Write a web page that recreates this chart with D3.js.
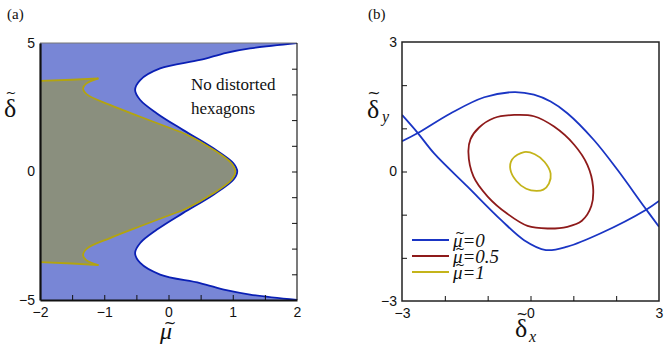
<!DOCTYPE html>
<html>
<head>
<meta charset="utf-8">
<script src="https://cdn.jsdelivr.net/npm/d3@7"></script>
<style>
  body { margin: 0; background: #fff; }
  svg { display: block; }
  .tick text { font-family: "Liberation Sans", Arial, sans-serif; font-size: 14px; fill: #111; }
  .serif { font-family: "Liberation Serif", "Times New Roman", serif; fill: #111; }
  .accent { font-family: "DejaVu Sans", sans-serif; fill: #111; }
</style>
</head>
<body>
<svg></svg>
<script>
// ---- panel (a) data: stability boundaries in the (mu, delta) plane
var boundaryBlue = [
  [2, 5], [1.27, 4.79], [0.9, 4.62], [0.49, 4.34], [-0.13, 4.01], [-0.44, 3.56],
  [-0.52, 3.17], [-0.44, 2.78], [-0.18, 2.26], [0.23, 1.61], [0.70, 0.90],
  [1.01, 0.32], [1.07, 0], [1.01, -0.32], [0.70, -0.90], [0.23, -1.61],
  [-0.18, -2.26], [-0.44, -2.78], [-0.52, -3.17], [-0.44, -3.56], [-0.13, -4.01],
  [0.49, -4.34], [0.9, -4.62], [1.27, -4.79], [2, -5]
];
var yellowTailTop = [[-2, 3.53], [-1.5, 3.57], [-1.09, 3.62]];
var yellowBody = [
  [-1.09, 3.62], [-1.28, 3.42], [-1.33, 3.24], [-1.27, 3.0], [-0.91, 2.59],
  [-0.44, 2.13], [-0.03, 1.74], [0.28, 1.44], [0.68, 0.88], [0.98, 0.32],
  [1.04, 0], [0.98, -0.32], [0.68, -0.88], [0.28, -1.44], [-0.03, -1.74],
  [-0.44, -2.13], [-0.91, -2.59], [-1.27, -3.0], [-1.33, -3.26], [-1.28, -3.45],
  [-1.09, -3.64]
];
var yellowTailBottom = [[-1.09, -3.64], [-1.5, -3.58], [-2, -3.53]];

var muTicksA = [-2, -1, 0, 1, 2];
var deltaTicksA = [-5, 0, 5];

// ---- panel (b) data: curves in the (delta_x, delta_y) plane
var mu0Upper = [
  [-3, 0.70], [-2.63, 0.89], [-1.86, 1.35], [-1.08, 1.72], [-0.38, 1.84],
  [0.08, 1.78], [0.47, 1.62], [0.86, 1.35], [1.48, 0.73], [2.03, 0.04],
  [2.65, -0.81], [3, -1.28]
];
var mu0Lower = [
  [-3, 1.31], [-2.63, 0.89], [-2.25, 0.42], [-1.47, -0.35], [-0.69, -1.12],
  [-0.15, -1.59], [0.36, -1.82], [0.86, -1.74], [1.64, -1.43], [2.69, -0.89],
  [3, -0.68]
];
var mu05Loop = [
  [-1.45, 0.45], [-1.40, 0.75], [-1.20, 1.02], [-0.85, 1.24], [-0.38, 1.31],
  [0.08, 1.28], [0.55, 1.04], [1.02, 0.62], [1.33, 0.15], [1.46, -0.35],
  [1.42, -0.80], [1.20, -1.14], [0.86, -1.28], [0.40, -1.32], [-0.07, -1.26],
  [-0.54, -0.98], [-1.0, -0.58], [-1.33, -0.12]
];
var mu1Loop = [
  [-0.15, 0.45], [0.10, 0.40], [0.33, 0.22], [0.47, -0.05], [0.43, -0.28],
  [0.30, -0.42], [0.14, -0.45], [-0.10, -0.40], [-0.33, -0.22], [-0.47, 0.05],
  [-0.43, 0.28]
];
var legendLabels = ["=0", "=0.5", "=1"];
var legendColors = ["#1a35c4", "#8e1a1a", "#c4b41a"];
var xTicksB = [-3, 0, 3];
var yTicksB = [-3, 0, 3];

var width = 664, height = 352;
var svg = d3.select("svg").attr("width", width).attr("height", height);

// serif text helper
function serifText(x, y, str, size, italic, anchor) {
  return svg.append("text").attr("class", "serif")
    .attr("x", x).attr("y", y)
    .attr("text-anchor", anchor || "start")
    .style("font-size", size + "px")
    .style("font-style", italic ? "italic" : "normal")
    .text(str);
}
// tilde accent centred on (cx, cy)
function tilde(cx, cy, size) {
  return svg.append("text").attr("class", "accent")
    .attr("x", cx).attr("y", cy + size * 0.3)
    .attr("text-anchor", "middle")
    .style("font-size", size + "px")
    .text("~");
}

// ================= panel (a) =================
var xa = d3.scaleLinear().domain([-2, 2]).range([40, 297]);
var ya = d3.scaleLinear().domain([-5, 5]).range([300, 43]);

var lineA = d3.line().x(d => xa(d[0])).y(d => ya(d[1])).curve(d3.curveCatmullRom);
var lineStraight = d3.line().x(d => xa(d[0])).y(d => ya(d[1]));

var ga = svg.append("g");

ga.append("defs").append("clipPath").attr("id", "clipA")
  .append("rect").attr("x", 40).attr("y", 43).attr("width", 257).attr("height", 257);

var plotA = ga.append("g").attr("clip-path", "url(#clipA)");

// blue background
plotA.append("rect")
  .attr("x", 40).attr("y", 43).attr("width", 257).attr("height", 257)
  .attr("fill", "#7886d6");

// white region right of blue boundary
plotA.append("path")
  .attr("d", lineA(boundaryBlue) + "Z")
  .attr("fill", "#fff");

// gray region inside yellow boundary
var grayPath = lineStraight(yellowTailTop) +
  lineA(yellowBody).replace(/^M/, "L") +
  lineStraight(yellowTailBottom).replace(/^M/, "L") + "Z";
plotA.append("path")
  .attr("d", grayPath)
  .attr("fill", "#8a8f7e");

plotA.append("path")
  .attr("d", lineA(boundaryBlue))
  .attr("fill", "none")
  .attr("stroke", "#0a1fb4")
  .attr("stroke-width", 1.8);

[[yellowTailTop, lineStraight], [yellowBody, lineA], [yellowTailBottom, lineStraight]].forEach(function(p) {
  plotA.append("path")
    .attr("d", p[1](p[0]))
    .attr("fill", "none")
    .attr("stroke", "#b3a40e")
    .attr("stroke-width", 1.8);
});

// frame
ga.append("line").attr("x1", 40).attr("x2", 297).attr("y1", 43).attr("y2", 43)
  .attr("stroke", "#777").attr("stroke-width", 1);
ga.append("line").attr("x1", 297).attr("x2", 297).attr("y1", 43).attr("y2", 300)
  .attr("stroke", "#222").attr("stroke-width", 1.2);

// minor ticks, inward
ga.append("g")
  .attr("transform", "translate(0,300)")
  .call(d3.axisBottom(xa).tickValues(d3.range(-1.5, 2, 0.5)).tickSize(-5).tickFormat(""))
  .call(g => g.select(".domain").remove())
  .selectAll("line").attr("stroke", "#111");
ga.append("g")
  .attr("transform", "translate(297,0)")
  .call(d3.axisRight(ya).tickValues(d3.range(-4, 5, 1)).tickSize(-5).tickFormat(""))
  .call(g => g.select(".domain").remove())
  .selectAll("line").attr("stroke", "#111");

// labelled axes
ga.append("g")
  .attr("transform", "translate(0,300)")
  .call(d3.axisBottom(xa).tickValues(muTicksA).tickSize(0).tickPadding(7).tickFormat(d3.format("d")))
  .call(g => g.select(".domain").attr("stroke", "#111").attr("stroke-width", 2.2));
ga.append("g")
  .attr("transform", "translate(40,0)")
  .call(d3.axisLeft(ya).tickValues(deltaTicksA).tickSize(0).tickPadding(5).tickFormat(d3.format("d")))
  .call(g => g.select(".domain").attr("stroke", "#111").attr("stroke-width", 2.2));

serifText(7, 19, "(a)", 15);
serifText(191, 90, "No distorted", 17);
serifText(191, 114, "hexagons", 17);

// axis labels of (a)
serifText(4, 117, "δ", 26);
tilde(11, 93, 13);
serifText(160, 339, "μ", 24, true);
tilde(170, 323, 15);

// ================= panel (b) =================
var xb = d3.scaleLinear().domain([-3, 3]).range([402, 659]);
var yb = d3.scaleLinear().domain([-3, 3]).range([301, 42]);

var lineB = d3.line().x(d => xb(d[0])).y(d => yb(d[1])).curve(d3.curveCatmullRom);
var loopB = d3.line().x(d => xb(d[0])).y(d => yb(d[1])).curve(d3.curveCatmullRomClosed);

var gb = svg.append("g");
gb.append("defs").append("clipPath").attr("id", "clipB")
  .append("rect").attr("x", 402).attr("y", 42).attr("width", 257).attr("height", 259);
var plotB = gb.append("g").attr("clip-path", "url(#clipB)");

plotB.append("path").attr("d", lineB(mu0Upper))
  .attr("fill", "none").attr("stroke", legendColors[0]).attr("stroke-width", 1.8);
plotB.append("path").attr("d", lineB(mu0Lower))
  .attr("fill", "none").attr("stroke", legendColors[0]).attr("stroke-width", 1.8);
plotB.append("path").attr("d", loopB(mu05Loop))
  .attr("fill", "none").attr("stroke", legendColors[1]).attr("stroke-width", 1.8);
plotB.append("path").attr("d", loopB(mu1Loop))
  .attr("fill", "none").attr("stroke", legendColors[2]).attr("stroke-width", 1.8);

// frame
gb.append("rect").attr("x", 402).attr("y", 42).attr("width", 257).attr("height", 259)
  .attr("fill", "none").attr("stroke", "#222").attr("stroke-width", 1.5);

gb.append("g")
  .attr("transform", "translate(0,301)")
  .call(d3.axisBottom(xb).tickValues(d3.range(-2, 3, 1)).tickSize(-5).tickFormat(""))
  .call(g => g.select(".domain").remove())
  .selectAll("line").attr("stroke", "#111");
gb.append("g")
  .attr("transform", "translate(402,0)")
  .call(d3.axisLeft(yb).tickValues(d3.range(-2, 3, 1)).tickSize(-5).tickFormat(""))
  .call(g => g.select(".domain").remove())
  .selectAll("line").attr("stroke", "#111");

gb.append("g")
  .attr("transform", "translate(0,301)")
  .call(d3.axisBottom(xb).tickValues(xTicksB).tickSize(0).tickPadding(7).tickFormat(d3.format("d")))
  .call(g => g.select(".domain").remove());
gb.append("g")
  .attr("transform", "translate(402,0)")
  .call(d3.axisLeft(yb).tickValues(yTicksB).tickSize(0).tickPadding(5).tickFormat(d3.format("d")))
  .call(g => g.select(".domain").remove());

serifText(368, 19, "(b)", 15);

// axis labels of (b)
serifText(515, 337, "δ", 26);
tilde(522, 315, 14);
serifText(529, 342, "x", 16, true);
serifText(367, 118, "δ", 26);
tilde(374, 93, 16);
serifText(382, 122, "y", 16, true);

// legend
legendLabels.forEach(function(lab, i) {
  var y = 240 + i * 16;
  svg.append("line")
    .attr("x1", 412).attr("x2", 449).attr("y1", y).attr("y2", y)
    .attr("stroke", legendColors[i]).attr("stroke-width", 2);
  var t = serifText(453, y + 7, "", 19, true);
  t.append("tspan").text("μ");
  t.append("tspan").text(lab);
  tilde(460, y - 7, 12);
});
</script>
</body>
</html>
